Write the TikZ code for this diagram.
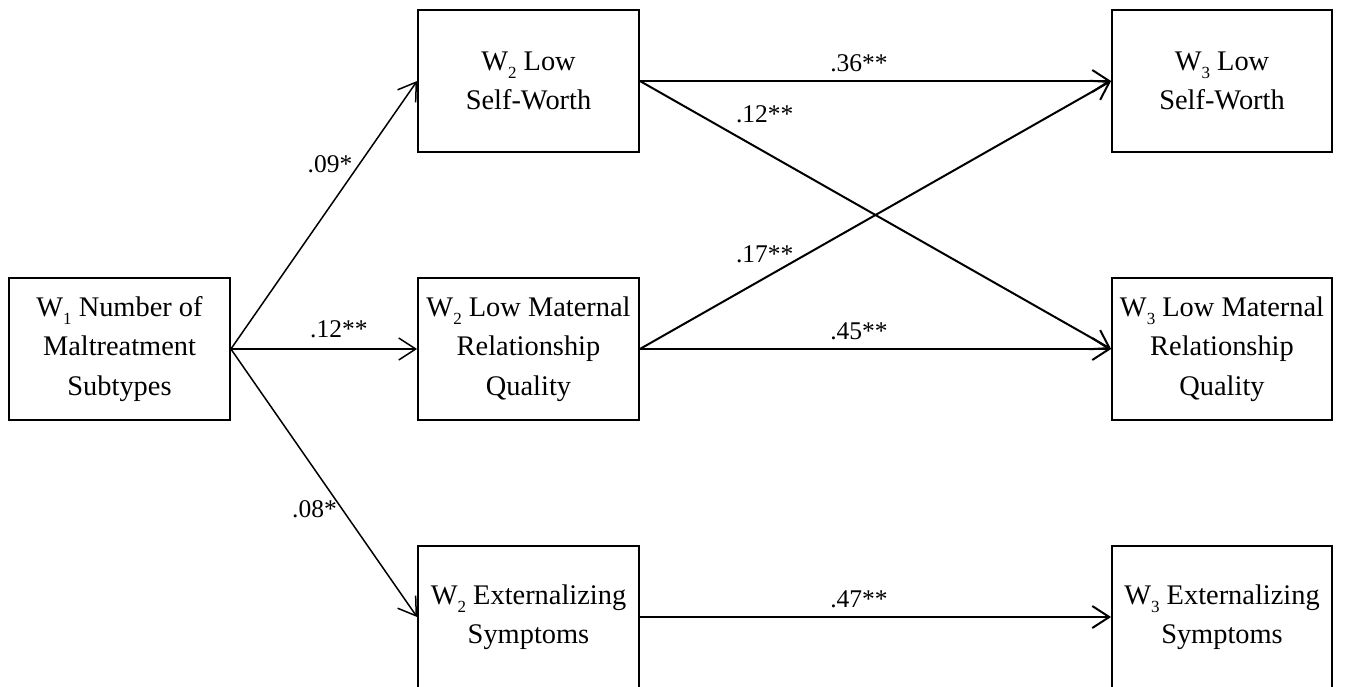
\documentclass[tikz,border=0pt]{standalone}
\usepackage{fontspec}
\setmainfont{Liberation Serif}
\usepackage{tikz}
\usetikzlibrary{arrows, arrows.meta}
\newcommand\wave[1]{W\raisebox{-0.3em}{\fontsize{17}{17}\selectfont #1}}

\begin{document}
\begin{tikzpicture}[->, >={Straight Barb[length=17pt,width=22pt]}, line width=2pt, node distance=268pt,
	every node/.style={font=\fontsize{25.5}{30}\selectfont, inner sep=0pt},
	varbox/.style={draw=black, line width=1.8pt, minimum width=221pt, minimum height=142pt, align=center, font=\fontsize{28.4}{39.5}\selectfont},
	coef/.style={anchor=base},
	thinarrow/.style={line width=1.5pt}]
	\useasboundingbox (0,0) rectangle (1345pt,-686pt);
	\node[varbox] (mal) at (119.5pt,-349pt) {\wave{1} Number of\\Maltreatment\\Subtypes};
	\node[varbox] (mrq2) [right of=mal, xshift=141pt] {\wave{2} Low Maternal\\Relationship\\Quality};
	\node[varbox] (sw2) [above of=mrq2] {\wave{2} Low\\Self-Worth};
	\node[varbox] (ext2) [below of=mrq2] {\wave{2} Externalizing\\Symptoms};
	\node[varbox, minimum width=220pt] (mrq3) [right of=mrq2, xshift=425.5pt] {\wave{3} Low Maternal\\Relationship\\Quality};
	\node[varbox, minimum width=220pt] (sw3) [above of=mrq3] {\wave{3} Low\\Self-Worth};
	\node[varbox, minimum width=220pt] (ext3) [below of=mrq3] {\wave{3} Externalizing\\Symptoms};

	\path (mal.east) edge[thinarrow] node[coef, pos=0.532, yshift=34pt]{.09*} (sw2.west)
	      (mal.east) edge[thinarrow] node[coef, pos=0.58, yshift=12pt]{.12**} (mrq2.west)
	      (mal.east) edge[thinarrow] node[coef, pos=0.449, yshift=-48.6pt]{.08*} (ext2.west)
	      (sw2.east) edge node[coef, pos=0.465, yshift=10pt]{.36**} (sw3.west)
	      (sw2.east) edge node[coef, pos=0.265, yshift=30pt]{.12**} (mrq3.west)
	      (mrq2.east) edge node[coef, pos=0.265, yshift=15pt]{.17**} (sw3.west)
	      (mrq2.east) edge node[coef, pos=0.465, yshift=10pt]{.45**} (mrq3.west)
	      (ext2.east) edge node[coef, pos=0.465, yshift=10pt]{.47**} (ext3.west);
\end{tikzpicture}
\end{document}
